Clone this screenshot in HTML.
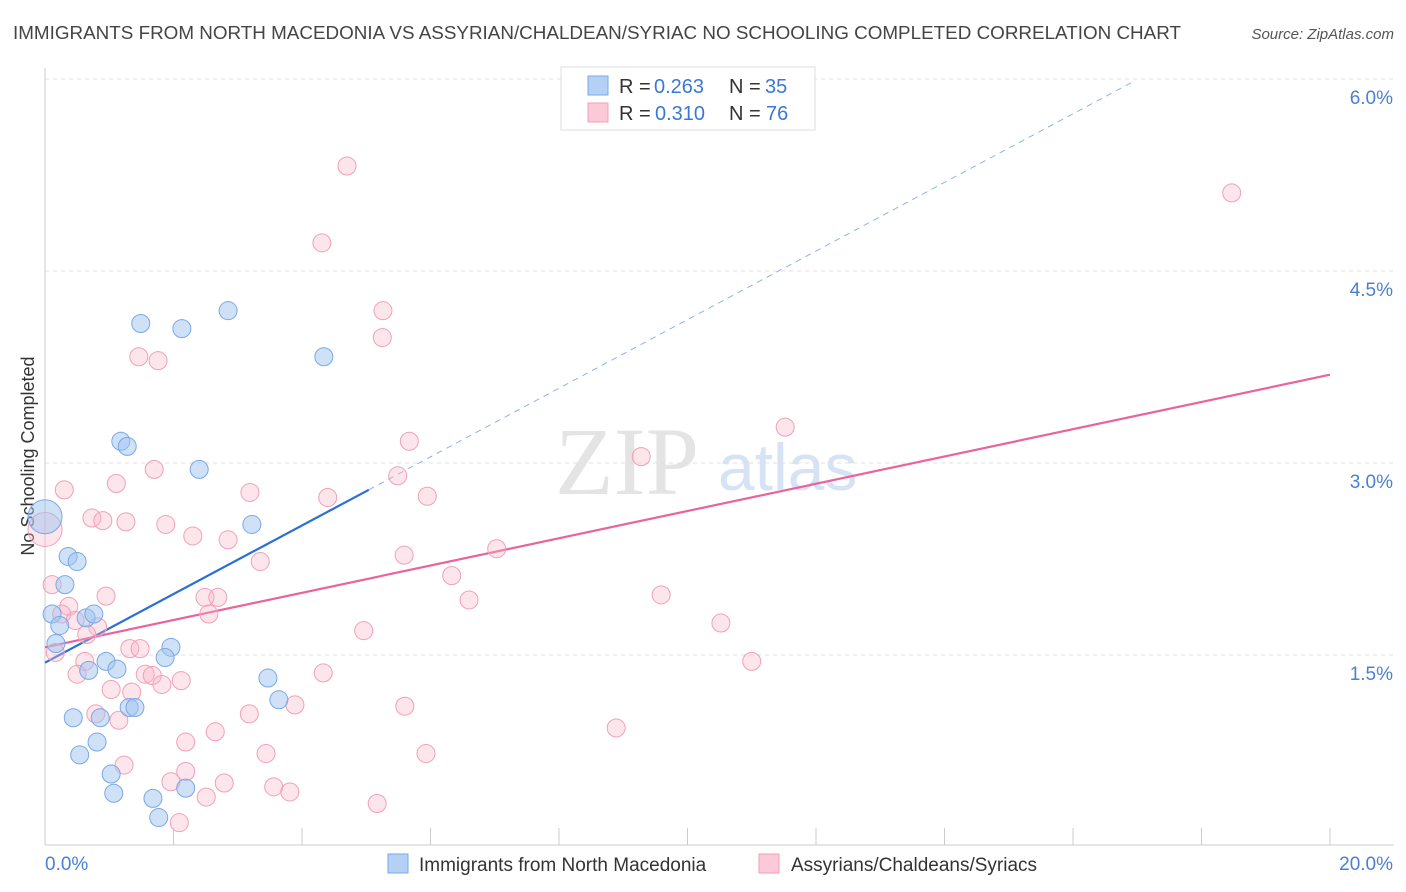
<!DOCTYPE html>
<html><head><meta charset="utf-8">
<style>
body{margin:0;background:#fff;font-family:"Liberation Sans",sans-serif;}
#wrap{position:relative;width:1406px;height:892px;overflow:hidden;}
</style></head>
<body>
<div id="wrap">
<svg id="chart" width="1406" height="892" xmlns="http://www.w3.org/2000/svg" font-family="Liberation Sans, sans-serif">
<text x="13" y="39" font-size="18.5" fill="#444" textLength="1168" lengthAdjust="spacingAndGlyphs">IMMIGRANTS FROM NORTH MACEDONIA VS ASSYRIAN/CHALDEAN/SYRIAC NO SCHOOLING COMPLETED CORRELATION CHART</text>
<text x="1394" y="39" font-size="15" fill="#555" font-style="italic" text-anchor="end">Source: ZipAtlas.com</text>
<text transform="translate(34,456) rotate(-90)" font-size="18" fill="#333" text-anchor="middle">No Schooling Completed</text>
<text x="555" y="494" font-size="96" font-family="Liberation Serif, serif" fill="#e4e4e4">ZIP</text>
<text x="718" y="490" font-size="66" fill="#d6e3f4">atlas</text>
<g id="grid"></g>
<g id="axes"></g>
<g id="lines"></g>
<g id="pts"></g>
<g>
<rect x="561" y="67" width="254" height="63" fill="#fff" stroke="#ddd"/>
<rect x="588" y="76" width="20" height="19" fill="#b5d0f5" stroke="#7aa8e6"/>
<rect x="588" y="103" width="20" height="19" fill="#fbc9d8" stroke="#f0a0b8"/>
<text x="619" y="93" font-size="20" fill="#333">R =</text>
<text x="654" y="93" font-size="20" fill="#3a78d8">0.263</text>
<text x="729" y="93" font-size="20" fill="#333">N =</text>
<text x="765" y="93" font-size="20" fill="#3a78d8">35</text>
<text x="619" y="120" font-size="20" fill="#333">R =</text>
<text x="655" y="120" font-size="20" fill="#3a78d8">0.310</text>
<text x="729" y="120" font-size="20" fill="#333">N =</text>
<text x="766" y="120" font-size="20" fill="#3a78d8">76</text>
</g>
<g>
<rect x="388" y="854" width="20" height="19" fill="#b5d0f5" stroke="#7aa8e6"/>
<text x="419" y="871" font-size="19" fill="#333">Immigrants from North Macedonia</text>
<rect x="759" y="854" width="20" height="19" fill="#fbc9d8" stroke="#f0a0b8"/>
<text x="791" y="871" font-size="19" fill="#333">Assyrians/Chaldeans/Syriacs</text>
</g>
</svg>
</div>
<script>
const yTicks=[1.5,3.0,4.5,6.0];
const yTickLabels=["1.5%","3.0%","4.5%","6.0%"];
const xTicks=[0,2,4,6,8,10,12,14,16,18,20];
const blueX=[0,1.49,2.13,2.85,4.34,1.18,1.28,2.40,3.22,0.36,0.50,0.31,0.11,0.23,0.64,0.76,0.17,1.96,1.87,0.95,0.68,1.12,3.47,3.64,1.31,1.40,0.44,0.86,0.81,0.54,1.03,1.07,1.68,2.19,1.77];
const blueY=[2.58,4.09,4.05,4.19,3.83,3.17,3.13,2.95,2.52,2.27,2.23,2.05,1.82,1.73,1.79,1.82,1.59,1.56,1.48,1.45,1.38,1.39,1.32,1.15,1.09,1.09,1.01,1.01,0.82,0.72,0.57,0.42,0.38,0.46,0.23];
const pinkX=[4.70,4.31,18.47,5.26,5.25,1.46,1.76,11.52,5.67,9.28,1.70,5.49,0.30,1.11,3.19,4.40,5.95,0.73,0.90,1.26,1.88,2.30,2.85,0,3.35,5.59,7.03,0.11,6.33,0.95,6.60,2.49,2.69,9.59,0.37,0.26,2.55,0.47,0.82,10.52,4.96,0.65,0.16,1.32,1.48,0.62,11.00,0.50,1.56,1.67,4.33,2.12,1.82,1.03,1.35,3.89,5.60,0.79,3.18,1.15,8.89,2.65,2.19,3.44,5.93,1.23,2.19,1.96,2.79,3.56,3.81,2.51,5.17,2.09];
const pinkY=[5.32,4.72,5.11,4.19,3.98,3.83,3.80,3.28,3.17,3.05,2.95,2.90,2.79,2.84,2.77,2.73,2.74,2.57,2.55,2.54,2.52,2.43,2.40,2.48,2.23,2.28,2.33,2.05,2.12,1.96,1.93,1.95,1.95,1.97,1.88,1.82,1.82,1.77,1.72,1.75,1.69,1.66,1.52,1.55,1.55,1.45,1.45,1.35,1.35,1.34,1.36,1.30,1.27,1.23,1.21,1.11,1.10,1.04,1.04,0.99,0.93,0.90,0.82,0.73,0.73,0.64,0.59,0.51,0.50,0.47,0.43,0.39,0.34,0.19];
const blueBig=[0];
const pinkBig=[23];
const blueTrend=[1.44,0.268];
const pinkTrend=[1.56,0.1065];
const sx=v=>45+v*64.25;
const sy=v=>847-v*128;
const NS="http://www.w3.org/2000/svg";
function mk(tag,attrs,parent){const e=document.createElementNS(NS,tag);for(const k in attrs)e.setAttribute(k,attrs[k]);document.getElementById(parent).appendChild(e);return e;}
yTicks.forEach((t,i)=>{
  const l=mk('line',{x1:45,x2:1394,y1:sy(t),y2:sy(t),stroke:'#e0e0e0','stroke-dasharray':'4,4'},'grid');
  
  
  const tx=mk('text',{x:1393,y:sy(t)+25,'font-size':19,fill:'#4a7fd4','text-anchor':'end'},'grid');
  tx.textContent=yTickLabels[i];
  
  
});
const ax=mk('line',{x1:45,x2:45,y1:68,y2:845,stroke:'#ccc'},'axes');


const bx=mk('line',{x1:45,x2:1394,y1:845,y2:845,stroke:'#ccc'},'axes');


xTicks.forEach(t=>{
  const l=mk('line',{x1:sx(t),x2:sx(t),y1:828,y2:845,stroke:'#ccc'},'axes');
  
  
});
const x0=mk('text',{x:45,y:870,'font-size':19,fill:'#4a7fd4'},'axes');x0.textContent='0.0%';


const x1=mk('text',{x:1393,y:870,'font-size':19,fill:'#4a7fd4','text-anchor':'end'},'axes');x1.textContent='20.0%';


function pts(X,Y,big,fill,stroke,name){
  X.forEach((x,i)=>{
    const c=mk('circle',{cx:sx(x),cy:sy(Y[i]),r:big.includes(i)?17:9,fill:fill,stroke:stroke,'stroke-width':1},'pts');
    
    
  });
}
pts(pinkX,pinkY,pinkBig,'rgba(248,180,200,0.35)','#f0a0b8','point-assyrian');
pts(blueX,blueY,blueBig,'rgba(160,195,240,0.5)','#7aa8e6','point-macedonia');
const bl=mk('line',{x1:sx(0),y1:sy(blueTrend[0]),x2:sx(5.04),y2:sy(blueTrend[0]+blueTrend[1]*5.04),stroke:'#2a6fd6','stroke-width':2.2},'lines');


const bd=mk('line',{x1:sx(5.04),y1:sy(blueTrend[0]+blueTrend[1]*5.04),x2:sx(16.97),y2:sy(blueTrend[0]+blueTrend[1]*16.97),stroke:'#8fb3e6','stroke-width':1,'stroke-dasharray':'6,5'},'lines');


const pl=mk('line',{x1:sx(0),y1:sy(pinkTrend[0]),x2:sx(20),y2:sy(pinkTrend[0]+pinkTrend[1]*20),stroke:'#e8649a','stroke-width':2.2},'lines');


</script>
</body></html>
